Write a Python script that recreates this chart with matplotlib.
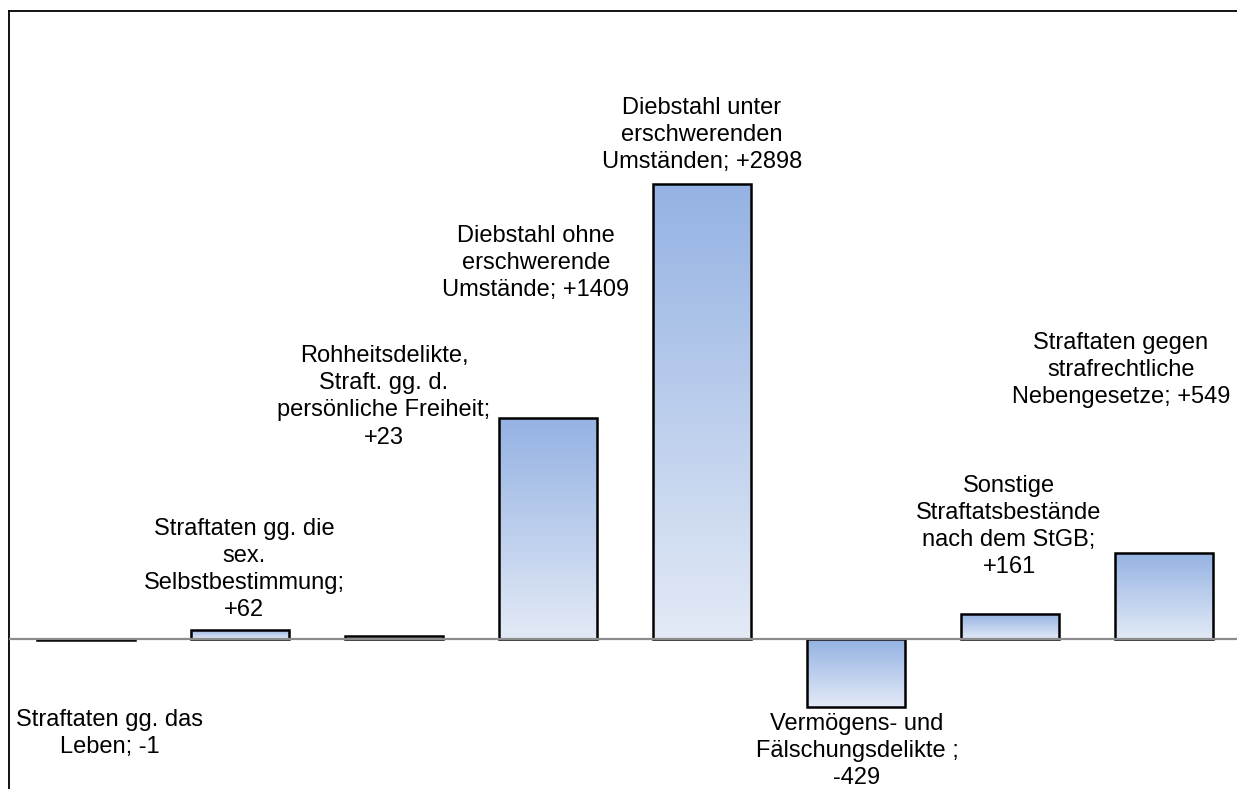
import numpy as np
import matplotlib
matplotlib.use("Agg")
import matplotlib.pyplot as plt
from matplotlib.colors import LinearSegmentedColormap

plt.rcParams['font.family'] = ['Liberation Sans', 'DejaVu Sans']

# Veränderung der Fallzahlen je Deliktgruppe
kategorien = [
    "Straftaten gg. das\nLeben",
    "Straftaten gg. die\nsex.\nSelbstbestimmung",
    "Rohheitsdelikte,\nStraft. gg. d.\npersönliche Freiheit",
    "Diebstahl ohne\nerschwerende\nUmstände",
    "Diebstahl unter\nerschwerenden\nUmständen",
    "Vermögens- und\nFälschungsdelikte ",
    "Sonstige\nStraftatsbestände\nnach dem StGB",
    "Straftaten gegen\nstrafrechtliche\nNebengesetze",
]
veraenderung = [-1, 62, 23, 1409, 2898, -429, 161, 549]

# Trenner zwischen Name und Wert (mit oder ohne Zeilenumbruch)
trenner = ["; ", ";\n", ";\n", "; ", "; ", ";\n", ";\n", "; "]
# Verschiebung der Beschriftungen in Pixeln relativ zum Balkenende
label_offset = [(24, -94), (4, 60), (-10, 239), (-12, 155),
                (0, 49), (1, -44), (-1, 88), (-43, 183)]

fig = plt.figure(figsize=(12.37, 7.89), dpi=100)
ax = fig.add_axes([9 / 1237, -0.00982, 1232 / 1237, 0.99651])

verlauf = LinearSegmentedColormap.from_list("blau", ["#94B2E3", "#E3EAF6"])
grad = np.linspace(0, 1, 256).reshape(-1, 1)

x = np.arange(len(kategorien))
bars = ax.bar(x, veraenderung, width=0.64, facecolor="none",
              edgecolor="black", linewidth=1.8, zorder=3)

# Farbverlauf von oben (dunkel) nach unten (hell) in jedem Balken
for b in bars:
    x0, y0 = b.get_x(), b.get_y()
    w, h = b.get_width(), b.get_height()
    ylo, yhi = min(y0, y0 + h), max(y0, y0 + h)
    im = ax.imshow(grad, extent=[x0, x0 + w, ylo, yhi], cmap=verlauf,
                   aspect="auto", origin="upper", zorder=2)
    im.set_clip_path(b)

ax.axhline(0, color="#8C8C8C", linewidth=1.6, zorder=4)

for i, (name, wert) in enumerate(zip(kategorien, veraenderung)):
    txt = f"{name}{trenner[i]}{wert:+d}"
    ax.annotate(txt, xy=(i, wert), xytext=label_offset[i],
                textcoords="offset pixels", ha="center", va="center",
                fontsize=17, linespacing=1.3, color="black")

ax.set_xlim(-0.5, len(kategorien) - 0.5)
ax.set_ylim(-1000, 4000)
ax.set_xticks([])
ax.set_yticks([])
for side in ["right", "bottom"]:
    ax.spines[side].set_visible(False)
for side in ["left", "top"]:
    ax.spines[side].set_linewidth(1.3)
    ax.spines[side].set_color("black")

fig.savefig("out.png", dpi=100)
